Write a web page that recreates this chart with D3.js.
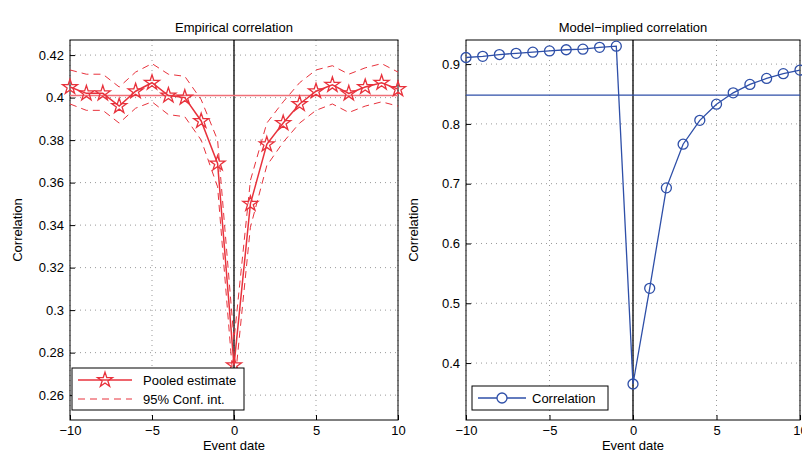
<!DOCTYPE html>
<html><head><meta charset="utf-8">
<script src="https://cdn.jsdelivr.net/npm/d3@7"></script>
<style>body{margin:0;background:#fff}text{font-family:"Liberation Sans",Arial,sans-serif}</style>
</head><body>
<script>
// event dates and series
var dates = d3.range(-10, 11);
var pooled = [0.405,0.402,0.402,0.396,0.403,0.407,0.401,0.400,0.389,0.369,0.274,0.350,0.378,0.388,0.397,0.403,0.406,0.402,0.405,0.407,0.404];
var upperCI = [0.413,0.411,0.411,0.405,0.412,0.416,0.411,0.410,0.399,0.380,0.286,0.361,0.388,0.398,0.407,0.413,0.415,0.411,0.414,0.416,0.412];
var lowerCI = [0.397,0.394,0.394,0.388,0.395,0.398,0.392,0.391,0.380,0.358,0.262,0.339,0.368,0.379,0.388,0.394,0.397,0.393,0.396,0.398,0.396];
var pooledMean = 0.401;
var model = [0.911,0.913,0.916,0.918,0.920,0.922,0.924,0.925,0.928,0.930,0.365,0.525,0.693,0.766,0.806,0.833,0.852,0.866,0.876,0.884,0.890];
var modelMean = 0.848;
var leftTicks = [0.26,0.28,0.3,0.32,0.34,0.36,0.38,0.4,0.42];
var rightTicks = [0.4,0.5,0.6,0.7,0.8,0.9];
var xTicks = [-10,-5,0,5,10];

var svg = d3.select("body").append("svg").attr("width",802).attr("height",455);
var red = "#e8323c", blue = "#2e4fa8";

function panel(o){
  var x = d3.scaleLinear().domain([-10,10]).range([o.x0,o.x1]);
  var y = d3.scaleLinear().domain(o.ydom).range([420,40]);
  var g = svg.append("g");
  // grid
  xTicks.forEach(function(t){ g.append("line").attr("x1",x(t)).attr("x2",x(t)).attr("y1",40).attr("y2",420).attr("stroke","#999").attr("stroke-dasharray","1,4"); });
  o.ticks.forEach(function(t){ g.append("line").attr("x1",o.x0).attr("x2",o.x1).attr("y1",y(t)).attr("y2",y(t)).attr("stroke","#999").attr("stroke-dasharray","1,4"); });
  g.append("rect").attr("x",o.x0).attr("y",40).attr("width",o.x1-o.x0).attr("height",380).attr("fill","none").attr("stroke","#000");
  g.append("g").attr("transform","translate(0,420)").call(d3.axisBottom(x).tickValues(xTicks).tickSize(-5).tickPadding(6).tickFormat(d=>d<0?"\u2212"+(-d):d))
    .call(a=>{a.select(".domain").remove();a.selectAll("text").attr("font-size",13);});
  g.append("g").attr("transform","translate("+o.x0+",0)").call(d3.axisLeft(y).tickValues(o.ticks).tickSize(-5).tickPadding(6).tickFormat(d3.format("~g")))
    .call(a=>{a.select(".domain").remove();a.selectAll("text").attr("font-size",13);});
  g.append("text").attr("x",(o.x0+o.x1)/2).attr("y",32).attr("text-anchor","middle").attr("font-size",13).text(o.title);
  g.append("text").attr("x",(o.x0+o.x1)/2).attr("y",450).attr("text-anchor","middle").attr("font-size",13).text("Event date");
  g.append("text").attr("transform","translate("+(o.x0-48)+",230) rotate(-90)").attr("text-anchor","middle").attr("font-size",13).text("Correlation");
  g.append("line").attr("x1",x(0)).attr("x2",x(0)).attr("y1",40).attr("y2",420).attr("stroke","#000").attr("stroke-width",1.3);
  return {g:g,x:x,y:y};
}

var L = panel({x0:70,x1:398,ydom:[0.2483,0.4271],ticks:leftTicks,title:"Empirical correlation"});
var line = d3.line().x((d,i)=>L.x(dates[i])).y(d=>L.y(d));
L.g.append("line").attr("x1",70).attr("x2",398).attr("y1",L.y(pooledMean)).attr("y2",L.y(pooledMean)).attr("stroke","#f07078").attr("stroke-width",1.5);
[upperCI,lowerCI].forEach(s=>L.g.append("path").attr("d",line(s)).attr("fill","none").attr("stroke",red).attr("stroke-dasharray","7,5"));
L.g.append("path").attr("d",line(pooled)).attr("fill","none").attr("stroke",red).attr("stroke-width",1.5);
var star = d3.symbol().type(d3.symbolStar).size(70);
L.g.selectAll(".st").data(pooled).enter().append("path").attr("d",star).attr("transform",(d,i)=>"translate("+L.x(dates[i])+","+L.y(d)+")").attr("fill","none").attr("stroke",red).attr("stroke-width",1.3);
var lg = L.g.append("g").attr("transform","translate(72,368)");
lg.append("rect").attr("width",172).attr("height",42).attr("fill","#fff").attr("stroke","#000");
lg.append("line").attr("x1",6).attr("x2",60).attr("y1",12).attr("y2",12).attr("stroke",red).attr("stroke-width",1.5);
lg.append("path").attr("d",star).attr("transform","translate(33,12)").attr("fill","none").attr("stroke",red).attr("stroke-width",1.3);
lg.append("text").attr("x",71).attr("y",17).attr("font-size",13).text("Pooled estimate");
lg.append("line").attr("x1",6).attr("x2",60).attr("y1",31).attr("y2",31).attr("stroke",red).attr("stroke-dasharray","7,5");
lg.append("text").attr("x",71).attr("y",36).attr("font-size",13).text("95% Conf. int.");

var R = panel({x0:466,x1:800,ydom:[0.3048,0.9403],ticks:rightTicks,title:"Model\u2212implied correlation"});
var rline = d3.line().x((d,i)=>R.x(dates[i])).y(d=>R.y(d));
R.g.append("line").attr("x1",466).attr("x2",800).attr("y1",R.y(modelMean)).attr("y2",R.y(modelMean)).attr("stroke",blue).attr("stroke-width",1.2);
R.g.append("path").attr("d",rline(model)).attr("fill","none").attr("stroke",blue).attr("stroke-width",1.3);
R.g.selectAll(".c").data(model).enter().append("circle").attr("cx",(d,i)=>R.x(dates[i])).attr("cy",d=>R.y(d)).attr("r",5).attr("fill","none").attr("stroke",blue).attr("stroke-width",1.3);
var rg = R.g.append("g").attr("transform","translate(472,386)");
rg.append("rect").attr("width",136).attr("height",24).attr("fill","#fff").attr("stroke","#000");
rg.append("line").attr("x1",6).attr("x2",54).attr("y1",12).attr("y2",12).attr("stroke",blue).attr("stroke-width",1.3);
rg.append("circle").attr("cx",30).attr("cy",12).attr("r",5).attr("fill","#fff").attr("stroke",blue).attr("stroke-width",1.3);
rg.append("text").attr("x",60).attr("y",17).attr("font-size",13).text("Correlation");
</script>
</body></html>
